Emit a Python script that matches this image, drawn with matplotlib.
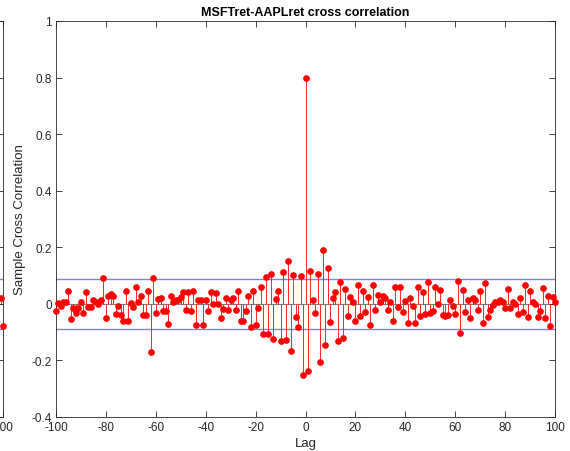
import numpy as np
import matplotlib
matplotlib.use("Agg")
import matplotlib.pyplot as plt

plt.rcParams['font.family'] = ['Liberation Sans', 'DejaVu Sans']

lags = list(range(-100, 101))
xcf = [
    -0.024, 0.002, -0.008, 0.006, 0.006, 0.044, -0.055, -0.015, -0.032, -0.015,
    0.006, -0.032, 0.041, -0.012, -0.012, 0.014, 0.008, -0.002, 0.012, 0.091,
    -0.051, 0.029, 0.035, 0.027, -0.035, -0.006, -0.039, -0.062, 0.047, -0.062,
    0.002, -0.012, 0.059, 0.008, 0.027, -0.041, -0.041, 0.044, -0.171, 0.091,
    -0.032, 0.018, 0.020, -0.024, -0.027, -0.071, 0.029, 0.008, 0.015, 0.012,
    0.025, 0.041, -0.020, 0.041, -0.027, 0.047, -0.074, 0.012, 0.015, -0.074,
    0.015, -0.027, 0.041, -0.002, 0.038, -0.002, -0.051, -0.018, 0.020, -0.020,
    0.015, 0.020, -0.020, 0.047, -0.059, -0.059, -0.027, 0.027, -0.082, 0.044,
    -0.073, -0.016, 0.061, -0.105, 0.094, -0.106, 0.104, -0.124, 0.018, 0.044,
    -0.132, 0.112, -0.127, 0.150, -0.165, 0.102, -0.045, -0.082, 0.100, -0.253,
    0.800,
    -0.238, 0.115, 0.015, -0.032, 0.106, -0.206, 0.191, -0.147, 0.126, -0.065,
    0.020, 0.041, -0.130, 0.079, -0.121, 0.051, -0.044, 0.024, 0.008, -0.059,
    0.068, -0.044, 0.044, -0.029, 0.025, -0.074, 0.068, -0.020, 0.033, 0.006,
    0.027, 0.021, -0.021, 0.008, -0.060, 0.061, -0.012, 0.058, -0.029, 0.009,
    -0.068, 0.020, -0.009, -0.068, 0.061, -0.044, 0.041, -0.035, 0.077, -0.032,
    -0.024, 0.059, 0.000, 0.049, -0.039, -0.044, -0.041, 0.014, -0.006, -0.035,
    0.080, -0.104, 0.049, -0.029, 0.012, -0.049, 0.021, 0.012, -0.020, 0.045,
    -0.068, 0.073, -0.045, -0.020, -0.004, 0.008, 0.008, 0.015, 0.006, -0.014,
    0.051, -0.014, 0.008, 0.000, -0.035, 0.021, -0.029, 0.065, -0.047, 0.047,
    0.006, 0.000, -0.047, -0.026, 0.055, -0.049, 0.029, -0.077, 0.026, 0.006,
]
bound = 0.089

# visible fragment of the neighbouring subplot (its right end)
left_lags = [99, 100]
left_vals = [0.02, -0.08]
left_bound = 0.089

xticks = [-100, -80, -60, -40, -20, 0, 20, 40, 60, 80, 100]
yticks = [-0.4, -0.2, 0, 0.2, 0.4, 0.6, 0.8, 1]
yticklabels = ['-0.4', '-0.2', '0', '0.2', '0.4', '0.6', '0.8', '1']

W, H = 570, 452
fig = plt.figure(figsize=(W / 100, H / 100), dpi=100)

axcol = '0.15'
blue = '#7f7fff'


def style(ax):
    ax.tick_params(direction='in', length=4, width=0.6, colors=axcol,
                   labelsize=8.5, top=True, right=True, pad=3)
    for s in ax.spines.values():
        s.set_color(axcol)
        s.set_linewidth(0.6)


def draw_xcf(ax, x, y, b, ms):
    ax.axhline(b, color=blue, lw=1, zorder=0.5)
    ax.axhline(-b, color=blue, lw=1, zorder=0.5)
    ax.axhline(0, color='0.5', lw=0.8, zorder=1)
    ax.vlines(x, 0, y, colors='red', linewidth=0.6, zorder=2)
    ax.plot(x, y, 'o', color='red', ms=ms, mec='red', zorder=3, clip_on=False)


# partial neighbouring subplot at far left
ax0 = fig.add_axes([(3 - 400) / W, (H - 418) / H, 400 / W, 396 / H])
ax0.set_xlim(-100, 100)
ax0.set_ylim(-0.4, 1)
draw_xcf(ax0, left_lags, left_vals, left_bound, 3.8)
ax0.set_xticks([100])
ax0.set_xticklabels(['100'])
ax0.set_yticks(yticks)
ax0.set_yticklabels([])
style(ax0)

ax = fig.add_axes([56 / W, (H - 418) / H, (555 - 56) / W, 396 / H])
draw_xcf(ax, lags, xcf, bound, 3.8)
ax.set_xlim(-100, 100)
ax.set_ylim(-0.4, 1)
ax.set_xticks(xticks)
ax.set_xticklabels([str(t) for t in xticks])
ax.set_yticks(yticks)
ax.set_yticklabels(yticklabels)
style(ax)
ax.set_title('MSFTret-AAPLret cross correlation', fontsize=9, fontweight='bold',
             color='black', pad=4)
ax.set_xlabel('Lag', fontsize=9.5, color=axcol, labelpad=3)
ax.set_ylabel('Sample Cross Correlation', fontsize=9.5, color=axcol, labelpad=4)

fig.savefig('out.png', dpi=100)
